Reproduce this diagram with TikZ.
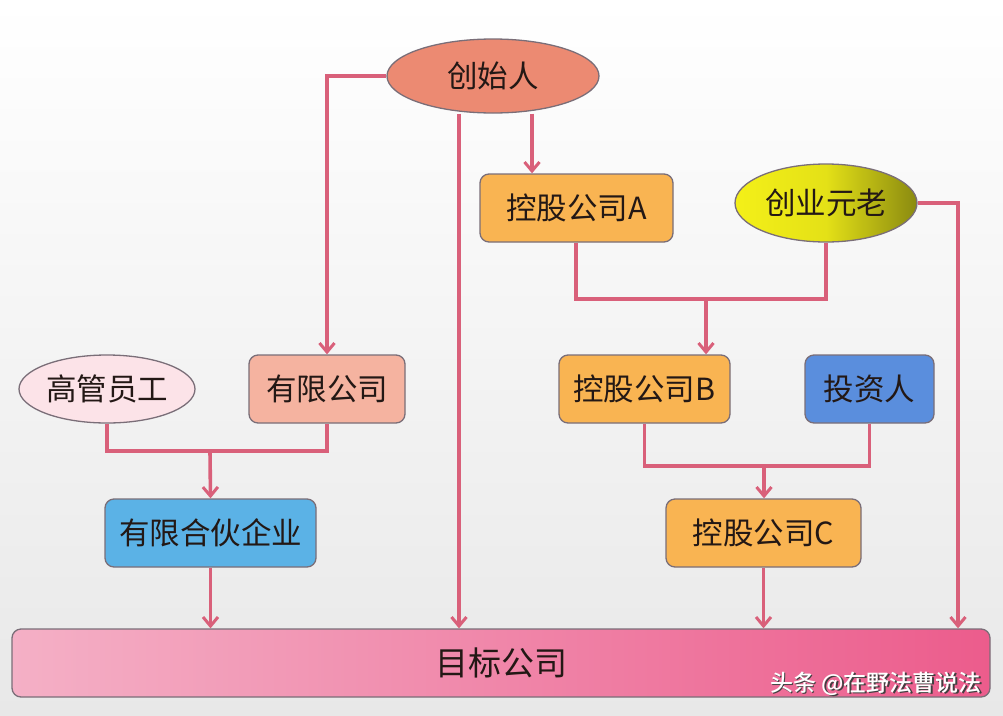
\documentclass[tikz,border=0pt]{standalone}
\usepackage{fontspec}
\setmainfont{Noto Sans CJK SC}
\newfontfamily\wmfont{Noto Sans CJK SC Medium}
\usetikzlibrary{arrows.meta,shapes.geometric}
\definecolor{lnk}{HTML}{D9607A}
\definecolor{bord}{HTML}{7A6E78}
\definecolor{orng}{HTML}{F9B452}
\definecolor{salm}{HTML}{EC8A72}
\definecolor{pinkl}{HTML}{FCE3E8}
\definecolor{peach}{HTML}{F5B3A0}
\definecolor{blueI}{HTML}{5A8EDD}
\definecolor{blueL}{HTML}{5BB2E6}
\definecolor{txt}{HTML}{231815}
\definecolor{tgL}{HTML}{F4B0C6}
\definecolor{tgR}{HTML}{EC5C8C}
\definecolor{ylw}{HTML}{F4F018}
\definecolor{olv}{HTML}{8A8A10}
\tikzset{
  x=1pt,y=-1pt,
  box/.style={draw=bord,line width=1.3pt,rounded corners=9pt,minimum height=68pt,text=txt,font=\fontsize{30.5}{33}\selectfont,inner sep=0pt},
  oval/.style={ellipse,draw=bord,line width=1.3pt,text=txt,font=\fontsize{30.5}{33}\selectfont,inner sep=0pt},
  conn/.style={draw=lnk,line width=3.6pt},
  arr/.style={conn,-{Straight Barb[length=9pt,width=15pt,line width=3pt]}}
}
\begin{document}
\begin{tikzpicture}
\shade[top color=white,bottom color=black!9] (0,0) rectangle (1003,715);
\useasboundingbox (0,0) rectangle (1003,715);
% nodes
\node[oval,fill=salm,minimum width=212pt,minimum height=74pt] (F) at (493,76) {创始人};
\node[box,fill=orng,minimum width=193pt] (A) at (576.5,208) {控股公司A};
\node[oval,left color=ylw,right color=olv,middle color=ylw!85!olv,minimum width=182pt,minimum height=78pt] (Y) at (826,203) {创业元老};
\node[oval,fill=pinkl,minimum width=176pt,minimum height=68pt] (G) at (107,389) {高管员工};
\node[box,fill=peach,minimum width=156pt] (L) at (327,389) {有限公司};
\node[box,fill=orng,minimum width=171pt] (B) at (644.5,389) {控股公司B};
\node[box,fill=blueI,minimum width=129pt] (I) at (869.5,389) {投资人};
\node[box,fill=blueL,minimum width=211pt] (P) at (210.5,533) {有限合伙企业};
\node[box,left color=tgL,right color=tgR,minimum width=978pt,font=\fontsize{33}{36}\selectfont] (T) at (501,663) {目标公司};
\node[box,fill=orng,minimum width=195pt] (C) at (763.5,533) {控股公司C};
\node[anchor=east,text=black!75,font=\wmfont\fontsize{23}{25}\selectfont] at (987,685) {头条 @在野法曹说法};
\node[anchor=east,text=white,font=\wmfont\fontsize{23}{25}\selectfont] (W) at (985.5,683.5) {头条 @在野法曹说法};
% junctions
\coordinate (j1) at (706,299);
\coordinate (j2) at (210,451);
\coordinate (j3) at (764,466);
% connectors
\draw[arr] (F.west) -| (L.north);
\draw[arr] (F.south -| 459,0) -- (T.north -| 459,0);
\draw[arr] (F.south -| 532,0) -- (A.north -| 532,0);
\draw[conn] (A.south -| 576,0) |- (j1) -| (Y.south);
\draw[arr] (j1) -- (B.north -| j1);
\draw[arr] (Y.east) -| (T.north -| 958,0);
\draw[conn] (G.south) |- (j2) -| (L.south);
\draw[arr] (j2) -- (P.north);
\draw[conn] (B.south) |- (j3) -| (I.south);
\draw[arr] (j3) -- (C.north -| j3);
\draw[arr] (P.south) -- (T.north -| P.south);
\draw[arr] (C.south) -- (T.north -| C.south);
\end{tikzpicture}
\end{document}
